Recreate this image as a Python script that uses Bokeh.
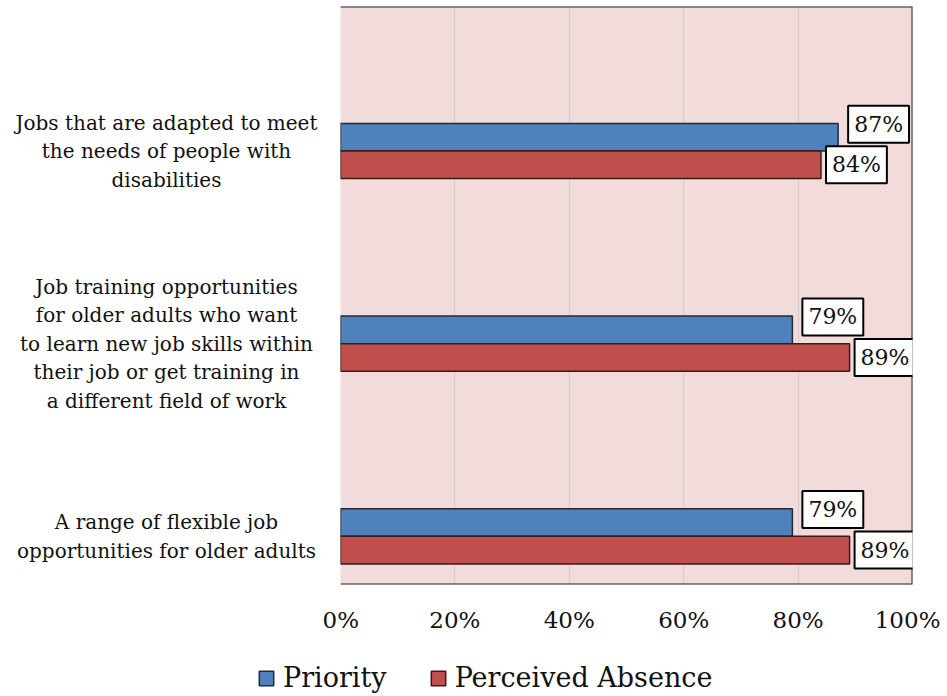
from bokeh.plotting import figure
from bokeh.models import Range1d, FixedTicker, NumeralTickFormatter, Label, Span, ColumnDataSource
from bokeh.layouts import row, column
from bokeh.embed import file_html
from bokeh.resources import INLINE

categories = [
    ["Jobs that are adapted to meet", "the needs of people with", "disabilities"],
    ["Job training opportunities", "for older adults who want", "to learn new job skills within",
     "their job or get training in", "a different field of work"],
    ["A range of flexible job", "opportunities for older adults"],
]
priority = [0.87, 0.79, 0.79]
perceived_absence = [0.84, 0.89, 0.89]
priority_labels = ["87%", "79%", "79%"]
absence_labels = ["84%", "89%", "89%"]
x_ticks = [0, 0.2, 0.4, 0.6, 0.8, 1.0]

BLUE = "#4f81bd"
RED = "#c0504d"
FONT = "DejaVu Serif"
TXT = "#111111"

n = len(categories)
centers = [i + 0.75 for i in range(n)]
bar_h = 0.143
y_range = Range1d(n, 0)

LEFT_W = 322

# ---------------- main plot ----------------
p = figure(width=940 - LEFT_W, height=640, x_range=Range1d(0, 1), y_range=y_range,
           output_backend="svg", toolbar_location=None,
           min_border_left=340 - LEFT_W, min_border_right=28, min_border_top=6, min_border_bottom=56)
p.background_fill_color = "#f2dcdb"
p.border_fill_color = "white"
p.outline_line_color = None

src = ColumnDataSource(dict(
    y_pri=[c - bar_h / 2 for c in centers], y_abs=[c + bar_h / 2 for c in centers],
    pri=priority, ab=perceived_absence))
p.hbar(y="y_pri", right="pri", left=0, height=bar_h, source=src,
       fill_color=BLUE, line_color="#1f2a3a", line_width=1.5)
p.hbar(y="y_abs", right="ab", left=0, height=bar_h, source=src,
       fill_color=RED, line_color="#3a1a1a", line_width=1.5)

p.yaxis.visible = False
p.ygrid.visible = False
p.xaxis.ticker = FixedTicker(ticks=x_ticks)
p.xaxis.formatter = NumeralTickFormatter(format="0%")
p.xaxis.axis_line_color = None
p.xaxis.major_tick_line_color = None
p.xaxis.minor_tick_line_color = None
p.xaxis.major_tick_out = 0
p.xaxis.major_tick_in = 0
p.xaxis.major_label_standoff = 22
p.xaxis.major_label_text_font = FONT
p.xaxis.major_label_text_font_size = "23px"
p.xaxis.major_label_text_color = TXT
p.xgrid.ticker = FixedTicker(ticks=x_ticks)
p.xgrid.grid_line_color = "#d4cccc"
p.xgrid.grid_line_width = 1

for sp in [Span(location=0, dimension="width"), Span(location=n, dimension="width"),
           Span(location=1, dimension="height")]:
    sp.line_color = "#262626"
    sp.line_width = 2
    p.add_layout(sp)

for c, v, t in zip(centers, priority, priority_labels):
    p.add_layout(Label(x=v, y=c - bar_h / 2, x_offset=10, y_offset=13, text=t,
                       text_align="left", text_baseline="middle", padding=6,
                       text_font=FONT, text_font_size="22px", text_color=TXT,
                       background_fill_color="white", border_line_color="black",
                       border_line_width=2))
for c, v, t in zip(centers, perceived_absence, absence_labels):
    p.add_layout(Label(x=v, y=c + bar_h / 2, x_offset=5, y_offset=0, text=t,
                       text_align="left", text_baseline="middle", padding=6,
                       text_font=FONT, text_font_size="22px", text_color=TXT,
                       background_fill_color="white", border_line_color="black",
                       border_line_width=2))

# ---------------- category labels (left) ----------------
line_sp = 28.5
lx, ly, lo, lt = [], [], [], []
for c, lines in zip(centers, categories):
    k = len(lines)
    for j, t in enumerate(lines):
        lx.append(166)
        ly.append(c)
        lo.append((j - (k - 1) / 2) * line_sp)
        lt.append(t)
left = figure(width=LEFT_W, height=640, x_range=Range1d(0, LEFT_W), y_range=y_range,
              output_backend="svg", toolbar_location=None,
              min_border_left=0, min_border_right=0, min_border_top=6, min_border_bottom=56)
left.outline_line_color = None
left.axis.visible = False
left.grid.visible = False
left.background_fill_color = "white"
left.text(x="lx", y="ly", text="lt", y_offset="lo",
          source=ColumnDataSource(dict(lx=lx, ly=ly, lo=lo, lt=lt)),
          text_align="center", text_baseline="middle",
          text_font={"value": FONT}, text_font_size="20px", text_color=TXT)

# ---------------- legend (bottom) ----------------
q = figure(width=940, height=56, x_range=Range1d(0, 1), y_range=Range1d(0, 1),
           output_backend="svg", toolbar_location=None,
           min_border_left=0, min_border_right=0, min_border_top=0, min_border_bottom=0)
q.outline_line_color = None
q.axis.visible = False
q.grid.visible = False
r1 = q.hbar(y="y_pri", right="pri", left=0, height=bar_h, source=src,
            fill_color=BLUE, line_color="#1f2a3a", line_width=1.5, legend_label="Priority")
r2 = q.hbar(y="y_abs", right="ab", left=0, height=bar_h, source=src,
            fill_color=RED, line_color="#3a1a1a", line_width=1.5, legend_label="Perceived Absence")
r1.visible = False
r2.visible = False
lg = q.legend[0]
lg.orientation = "horizontal"
lg.location = (257, 3)
lg.padding = 0
lg.margin = 0
lg.spacing = 42
lg.border_line_color = None
lg.background_fill_alpha = 0
lg.inactive_fill_alpha = 0
lg.glyph_width = 18
lg.glyph_height = 18
lg.label_standoff = 8
lg.label_text_font = FONT
lg.label_text_font_size = "27px"
lg.label_text_color = TXT

layout = column(row(left, p), q)
open("out.html", "w").write(file_html(layout, INLINE))
